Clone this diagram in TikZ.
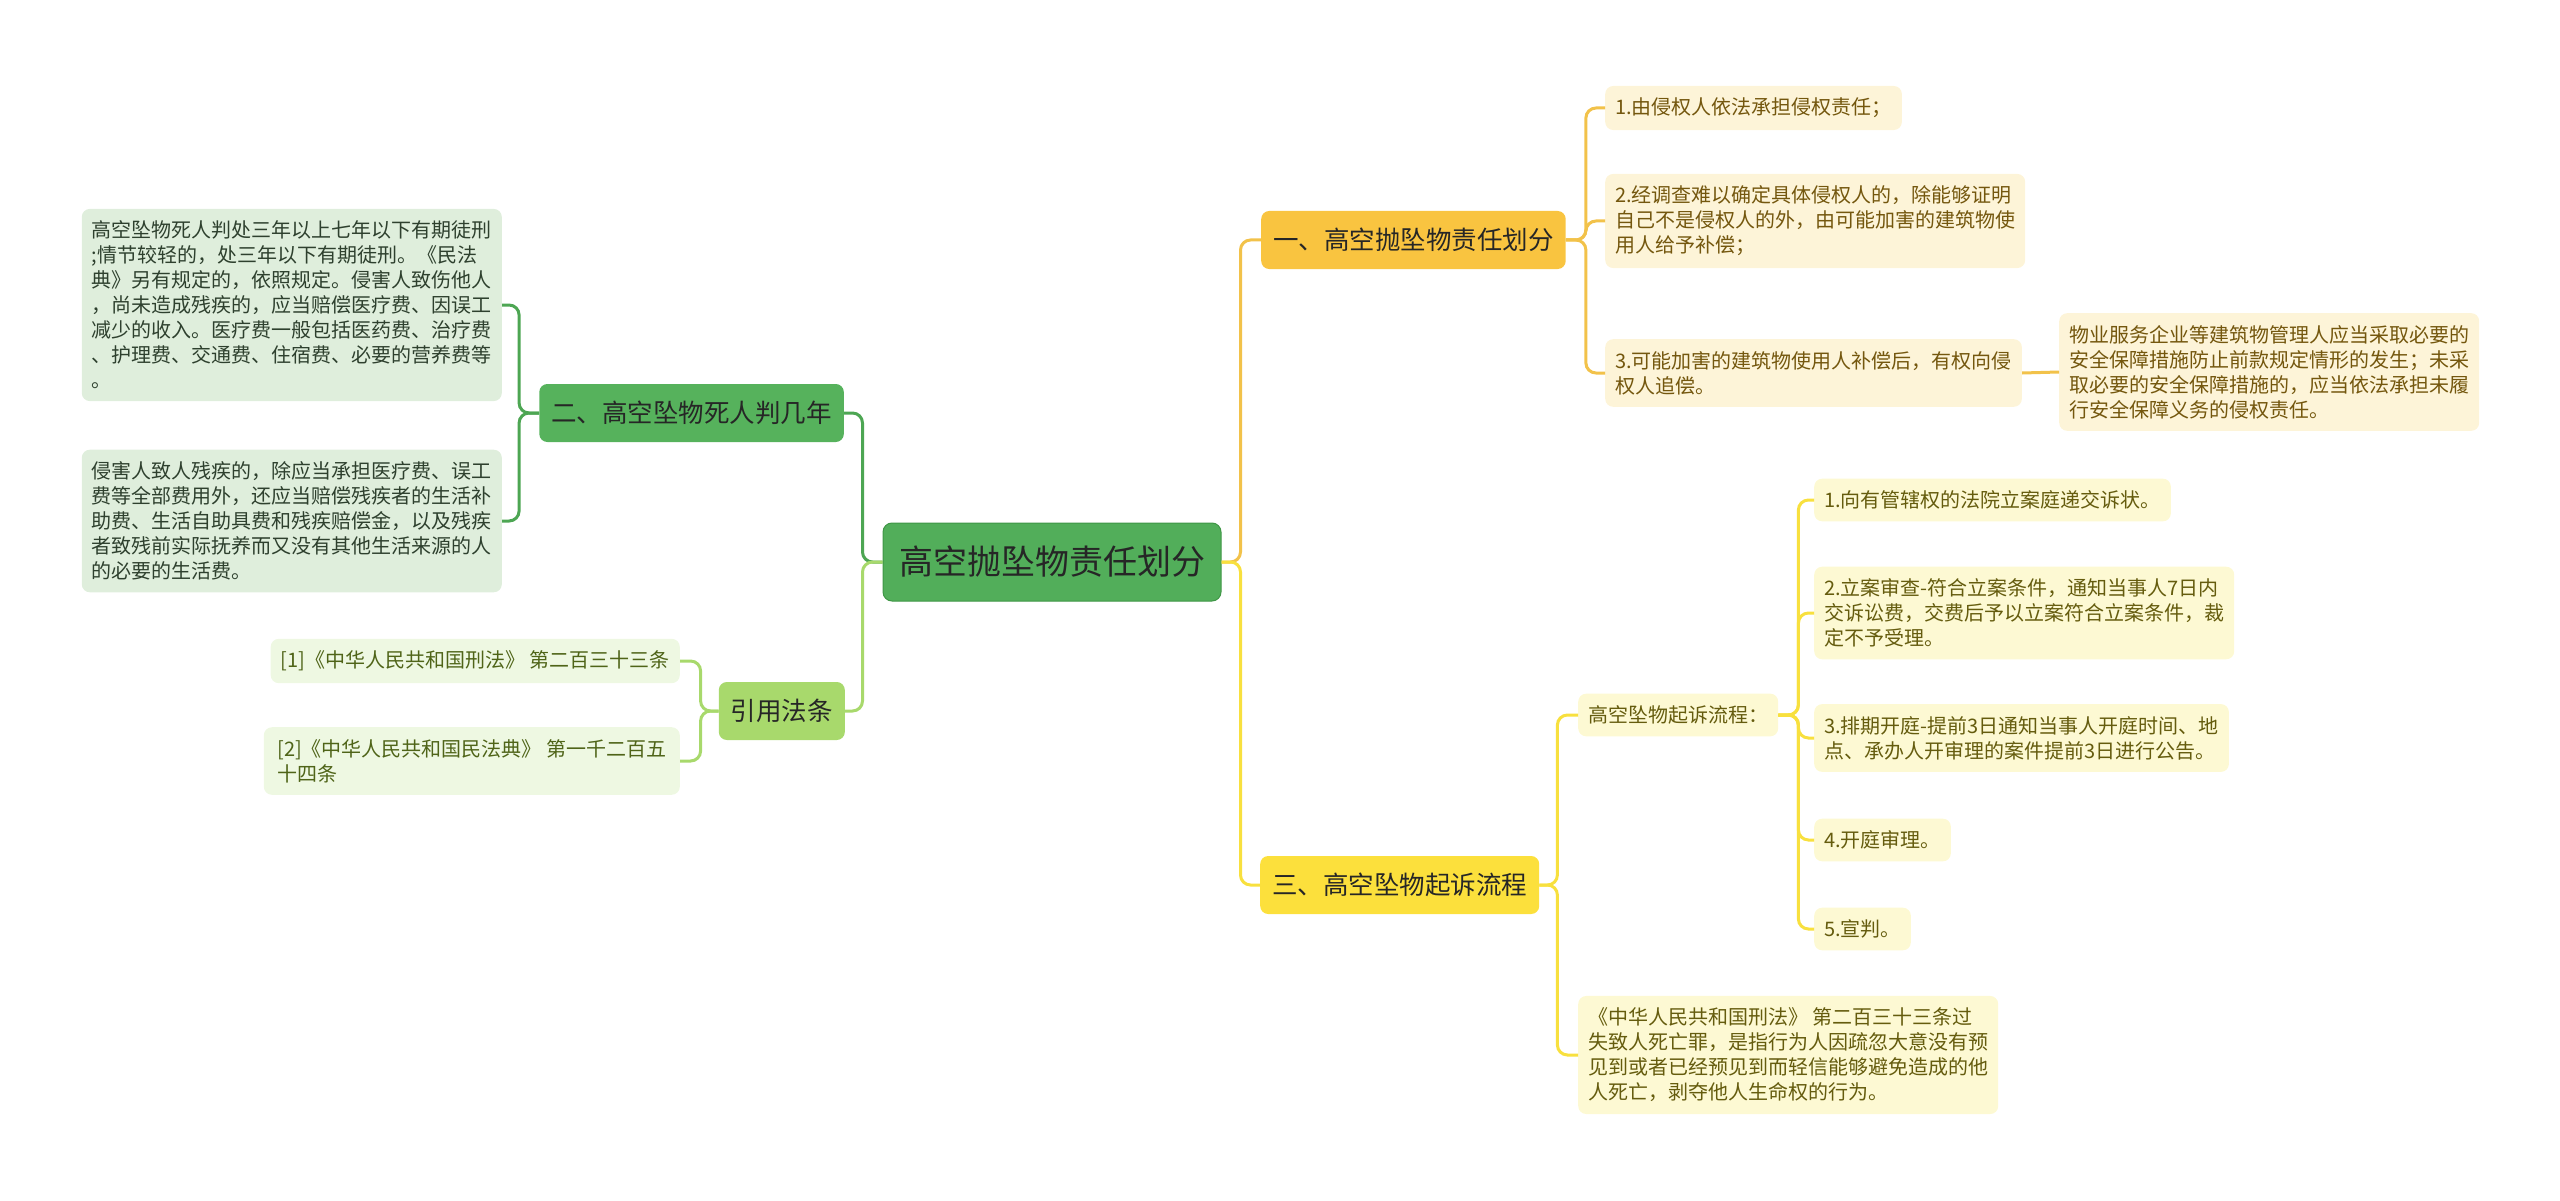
\documentclass[tikz,border=0pt]{standalone}
\usepackage{fontspec}
\newfontfamily\cjk{Noto Sans CJK SC}
\definecolor{rootfill}{HTML}{52AE5A}
\definecolor{rootdraw}{HTML}{3F9646}
\definecolor{gfill}{HTML}{56B25C}
\definecolor{gline}{HTML}{4DA653}
\definecolor{gleaf}{HTML}{DFEEDC}
\definecolor{gtext}{HTML}{2E402E}
\definecolor{lfill}{HTML}{A8D96C}
\definecolor{lline}{HTML}{A8D96C}
\definecolor{lleaf}{HTML}{EEF8E2}
\definecolor{ltext}{HTML}{4F6418}
\definecolor{ofill}{HTML}{F9C440}
\definecolor{oline}{HTML}{F2C24A}
\definecolor{oleaf}{HTML}{FDF4D8}
\definecolor{otext}{HTML}{74570E}
\definecolor{yfill}{HTML}{FCE03C}
\definecolor{yline}{HTML}{F8E03E}
\definecolor{yleaf}{HTML}{FDF9D3}
\definecolor{ytext}{HTML}{655C0E}
\tikzset{
  rootbox/.style={rounded corners=9pt, fill=rootfill, draw=rootdraw, line width=1pt,
    minimum height=78pt, inner xsep=16pt, text=black!85,
    font=\cjk\fontsize{34}{40}\selectfont},
  mainbox/.style={rounded corners=8pt, minimum height=58pt, inner xsep=12pt,
    text=black!85, font=\cjk\fontsize{25.5}{30}\selectfont},
  leafbox/.style={rounded corners=8pt, inner xsep=10pt, inner ysep=12pt, align=left,
    font=\cjk\fontsize{20}{25}\selectfont},
  link/.style={line width=3pt, rounded corners=10pt}
}
\begin{document}
\begin{tikzpicture}[x=1pt,y=-1pt]
  \useasboundingbox (0,0) rectangle (2560,1201);
  \path
    (1052,562) node[rootbox] (r) {高空抛坠物责任划分}
    (844,413) node[mainbox, fill=gfill, anchor=east] (b2) {二、高空坠物死人判几年}
    (845,711) node[mainbox, fill=lfill, anchor=east] (b4) {引用法条}
    (1261,240) node[mainbox, fill=ofill, anchor=west] (b1) {一、高空抛坠物责任划分}
    (1260,885) node[mainbox, fill=yfill, anchor=west] (b3) {三、高空坠物起诉流程};
  \path[leafbox]
    (502,305) node[fill=gleaf, text=gtext, anchor=east] (g1)
      {高空坠物死人判处三年以上七年以下有期徒刑\\;情节较轻的，处三年以下有期徒刑。《民法\\典》另有规定的，依照规定。侵害人致伤他人\\，尚未造成残疾的，应当赔偿医疗费、因误工\\减少的收入。医疗费一般包括医药费、治疗费\\、护理费、交通费、住宿费、必要的营养费等\\。}
    (502,521) node[fill=gleaf, text=gtext, anchor=east] (g2)
      {侵害人致人残疾的，除应当承担医疗费、误工\\费等全部费用外，还应当赔偿残疾者的生活补\\助费、生活自助具费和残疾赔偿金，以及残疾\\者致残前实际抚养而又没有其他生活来源的人\\的必要的生活费。}
    (680,661) node[fill=lleaf, text=ltext, anchor=east] (c1)
      {[1]《中华人民共和国刑法》 第二百三十三条}
    (680,761) node[fill=lleaf, text=ltext, anchor=east, minimum width=416pt] (c2)
      {[2]《中华人民共和国民法典》 第一千二百五\\十四条}
    (1605,108) node[fill=oleaf, text=otext, anchor=west] (o1)
      {1.由侵权人依法承担侵权责任；}
    (1605,221) node[fill=oleaf, text=otext, anchor=west] (o2)
      {2.经调查难以确定具体侵权人的，除能够证明\\自己不是侵权人的外，由可能加害的建筑物使\\用人给予补偿；}
    (1605,373) node[fill=oleaf, text=otext, anchor=west] (o3)
      {3.可能加害的建筑物使用人补偿后，有权向侵\\权人追偿。}
    (2059,372) node[fill=oleaf, text=otext, anchor=west] (o4)
      {物业服务企业等建筑物管理人应当采取必要的\\安全保障措施防止前款规定情形的发生；未采\\取必要的安全保障措施的，应当依法承担未履\\行安全保障义务的侵权责任。}
    (1578,715) node[fill=yleaf, text=ytext, anchor=west] (y0)
      {高空坠物起诉流程：}
    (1814,500) node[fill=yleaf, text=ytext, anchor=west] (y1)
      {1.向有管辖权的法院立案庭递交诉状。}
    (1814,613) node[fill=yleaf, text=ytext, anchor=west] (y2)
      {2.立案审查-符合立案条件，通知当事人7日内\\交诉讼费，交费后予以立案符合立案条件，裁\\定不予受理。}
    (1814,738) node[fill=yleaf, text=ytext, anchor=west] (y3)
      {3.排期开庭-提前3日通知当事人开庭时间、地\\点、承办人开审理的案件提前3日进行公告。}
    (1814,840) node[fill=yleaf, text=ytext, anchor=west] (y4)
      {4.开庭审理。}
    (1814,929) node[fill=yleaf, text=ytext, anchor=west] (y5)
      {5.宣判。}
    (1578,1055) node[fill=yleaf, text=ytext, anchor=west] (y6)
      {《中华人民共和国刑法》 第二百三十三条过\\失致人死亡罪，是指行为人因疏忽大意没有预\\见到或者已经预见到而轻信能够避免造成的他\\人死亡，剥夺他人生命权的行为。};
  \begin{scope}[link]
    \draw[gline] (r.west) -- ++(-20,0) |- (b2.east);
    \draw[lline] (r.west) -- ++(-20,0) |- (b4.east);
    \draw[oline] (r.east) -- ++(19,0) |- (b1.west);
    \draw[yline] (r.east) -- ++(19,0) |- (b3.west);
    \draw[gline] (b2.west) -- ++(-20,0) |- (g1.east);
    \draw[gline] (b2.west) -- ++(-20,0) |- (g2.east);
    \draw[lline] (b4.west) -- ++(-18,0) |- (c1.east);
    \draw[lline] (b4.west) -- ++(-18,0) |- (c2.east);
    \draw[oline] (b1.east) -- ++(20,0) |- (o1.west);
    \draw[oline] (b1.east) -- ++(20,0) |- (o2.west);
    \draw[oline] (b1.east) -- ++(20,0) |- (o3.west);
    \draw[oline] (o3.east) -- (o4.west);
    \draw[yline] (b3.east) -- ++(18,0) |- (y0.west);
    \draw[yline] (b3.east) -- ++(18,0) |- (y6.west);
    \draw[yline] (y0.east) -- ++(20,0) |- (y1.west);
    \draw[yline] (y0.east) -- ++(20,0) |- (y2.west);
    \draw[yline] (y0.east) -- ++(20,0) |- (y3.west);
    \draw[yline] (y0.east) -- ++(20,0) |- (y4.west);
    \draw[yline] (y0.east) -- ++(20,0) |- (y5.west);
  \end{scope}
\end{tikzpicture}
\end{document}
